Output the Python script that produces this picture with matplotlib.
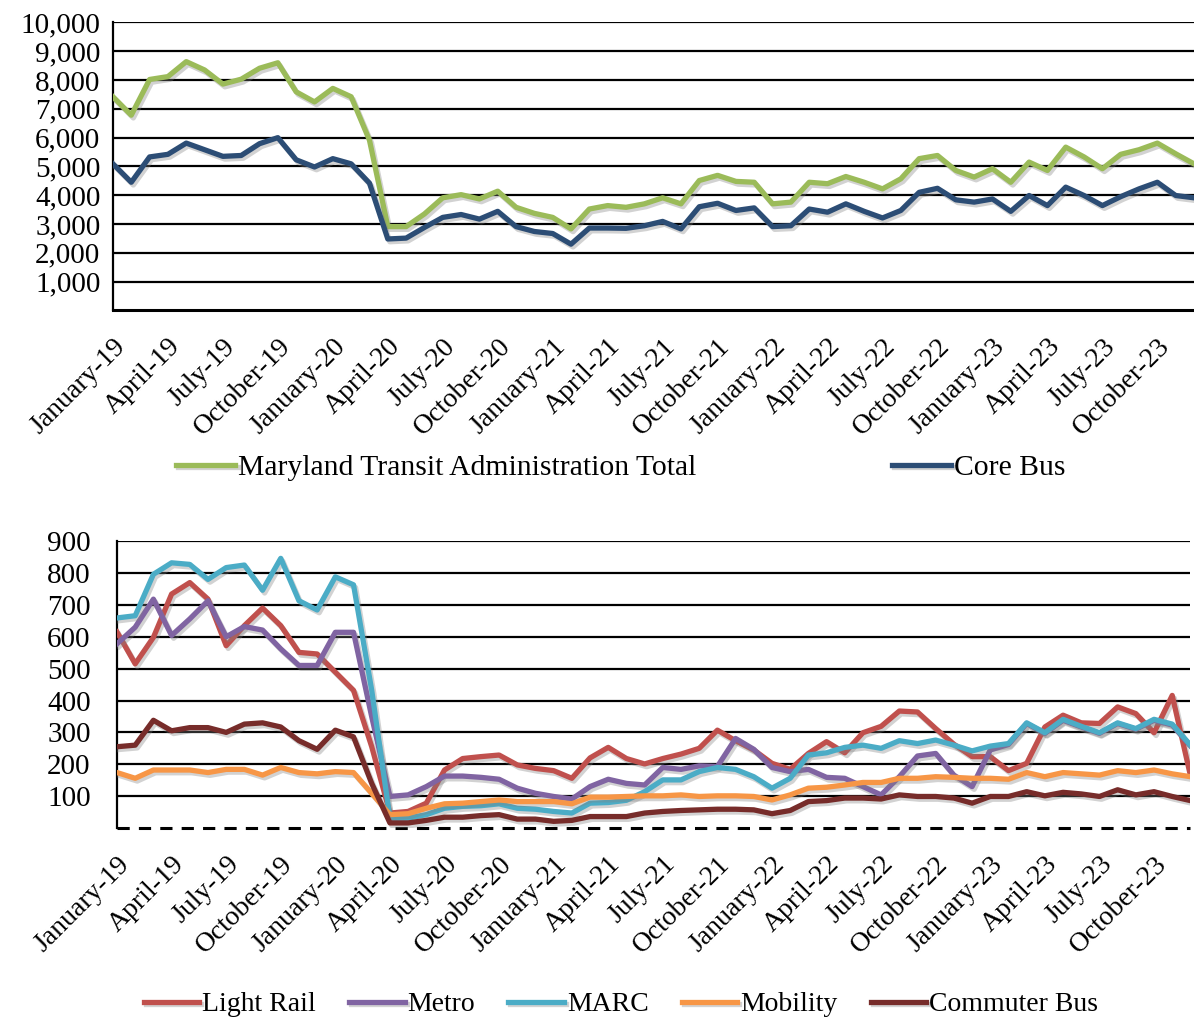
import matplotlib.pyplot as plt
import matplotlib.patheffects as pe

plt.rcParams['font.family'] = ['Liberation Serif', 'DejaVu Serif']

# -------------------------------
# Data (monthly, Jan-2019 .. Dec-2023), thousands of riders
# -------------------------------
months = ["January", "February", "March", "April", "May", "June", "July",
          "August", "September", "October", "November", "December"]
years = ["19", "20", "21", "22", "23"]
month_labels = [f"{m}-{y}" for y in years for m in months]

mta_total = [7420, 6780, 8020, 8120, 8640, 8350, 7860, 8030, 8410, 8600,
             7590, 7240, 7710, 7420, 5910, 2910, 2910, 3350, 3910, 4020,
             3870, 4140, 3580, 3370, 3230, 2830, 3520, 3640, 3580, 3700,
             3910, 3700, 4510, 4690, 4480, 4450, 3700, 3760, 4450, 4400,
             4650, 4450, 4220, 4570, 5270, 5380, 4860, 4630, 4920, 4450,
             5150, 4860, 5670, 5330, 4920, 5420, 5580, 5810, 5440, 5090]
core_bus = [5090, 4450, 5330, 5420, 5810, 5580, 5350, 5380, 5790, 6000,
            5230, 4980, 5270, 5090, 4420, 2480, 2510, 2880, 3230, 3330,
            3170, 3440, 2910, 2740, 2670, 2300, 2860, 2860, 2850, 2940,
            3090, 2830, 3600, 3720, 3470, 3560, 2910, 2940, 3520, 3410,
            3700, 3440, 3210, 3470, 4100, 4240, 3840, 3760, 3870, 3440,
            3990, 3640, 4280, 3990, 3640, 3950, 4220, 4450, 3990, 3910]

light_rail = [615, 515, 598, 734, 770, 718, 572, 635, 690, 635,
              551, 546, 489, 432, 255, 47, 52, 78, 182, 218,
              224, 229, 198, 187, 180, 156, 220, 253, 218, 201,
              218, 232, 250, 307, 274, 245, 203, 184, 234, 271,
              236, 299, 319, 367, 364, 312, 263, 224, 224, 180,
              203, 317, 354, 330, 328, 380, 359, 299, 416, 165]
metro = [578, 630, 718, 604, 656, 713, 600, 632, 621, 562,
         510, 510, 614, 614, 349, 99, 104, 130, 163, 163,
         159, 153, 125, 109, 99, 91, 130, 153, 140, 135,
         190, 184, 195, 193, 281, 247, 190, 177, 184, 159,
         156, 130, 104, 161, 226, 234, 166, 130, 245, 262,
         328, 297, 338, 317, 297, 328, 310, 338, 323, 258]
marc = [659, 666, 796, 832, 827, 780, 817, 825, 746, 846,
        713, 684, 788, 763, 432, 31, 31, 42, 62, 68,
        70, 76, 62, 59, 52, 47, 78, 80, 87, 114,
        151, 151, 177, 190, 184, 161, 125, 156, 229, 236,
        253, 260, 250, 274, 265, 276, 260, 242, 257, 265,
        330, 299, 341, 319, 299, 330, 312, 341, 326, 260]
mobility = [174, 156, 182, 182, 182, 174, 184, 184, 166, 190,
            174, 170, 177, 174, 109, 42, 45, 62, 76, 78,
            83, 88, 83, 83, 83, 76, 97, 97, 99, 101,
            101, 104, 99, 101, 101, 99, 88, 104, 125, 128,
            135, 143, 143, 156, 156, 161, 159, 156, 156, 153,
            174, 161, 174, 170, 166, 180, 174, 182, 170, 161]
commuter_bus = [255, 260, 338, 305, 315, 315, 300, 326, 330, 317,
                274, 247, 307, 286, 140, 16, 16, 24, 34, 34,
                39, 42, 28, 28, 21, 24, 36, 36, 36, 47,
                52, 55, 57, 59, 59, 57, 45, 55, 83, 86,
                94, 94, 91, 104, 99, 99, 94, 78, 99, 99,
                114, 101, 112, 107, 99, 120, 104, 114, 99, 86]

x = list(range(len(month_labels)))
tick_pos = x[::3]
tick_lab = month_labels[::3]

shadow = [pe.SimpleLineShadow(offset=(1.5, -2), shadow_color='gray', alpha=0.35),
          pe.Normal()]
FS = 20
LW = 3.8

# -------------------------------
# Figure
# -------------------------------
fig = plt.figure(figsize=(11.94, 10.21), dpi=100)
ax1 = fig.add_axes([0.0946, 0.696, 0.9054, 0.282])
ax2 = fig.add_axes([0.098, 0.189, 0.899, 0.281])


def style_axes(ax, ymax, step, dashed_zero, ypad):
    ax.set_xlim(0, 59)
    ax.set_ylim(0, ymax)
    ax.set_yticks(range(step, ymax + 1, step))
    ax.yaxis.set_major_formatter(plt.FuncFormatter(lambda v, p: f"{int(v):,}"))
    for yv in range(step, ymax + 1, step):
        ax.axhline(yv, color='black', lw=1.6, zorder=1)
    ax.axhline(0, color='black', lw=2.2, ls=(0, (4, 3)) if dashed_zero else '-',
               zorder=1, clip_on=False)
    for s in ['top', 'right', 'bottom']:
        ax.spines[s].set_visible(False)
    ax.spines['left'].set_linewidth(1.6)
    ax.tick_params(axis='y', length=0, labelsize=21, pad=ypad)
    ax.tick_params(axis='x', length=0, labelsize=FS, pad=17)
    ax.set_xticks(tick_pos)
    ax.set_xticklabels(tick_lab, rotation=45, ha='right', rotation_mode='anchor')


style_axes(ax1, 10000, 1000, False, 9)
ax1.plot(x, mta_total, color='#9BBB59', lw=LW, label='Maryland Transit Administration Total',
         path_effects=shadow, zorder=3)
ax1.plot(x, core_bus, color='#2C4D75', lw=LW, label='Core Bus',
         path_effects=shadow, zorder=3)

style_axes(ax2, 900, 100, True, 19)
series = [("Light Rail", light_rail, '#C0504D'),
          ("Metro", metro, '#8064A2'),
          ("MARC", marc, '#4BACC6'),
          ("Mobility", mobility, '#F79646'),
          ("Commuter Bus", commuter_bus, '#772C2A')]
for name, vals, col in series:
    ax2.plot(x, vals, color=col, lw=LW, label=name, path_effects=shadow, zorder=3)

fig.legend(*ax1.get_legend_handles_labels(), loc='center', bbox_to_anchor=(0.52, 0.542),
           ncol=2, frameon=False, fontsize=21.3, handlelength=2.0, handletextpad=0.1,
           columnspacing=6.6)
fig.legend(*ax2.get_legend_handles_labels(), loc='center', bbox_to_anchor=(0.52, 0.016),
           ncol=5, frameon=False, fontsize=FS, handlelength=2.0, handletextpad=0.1,
           columnspacing=1.2)

fig.savefig('out.png', dpi=100)
